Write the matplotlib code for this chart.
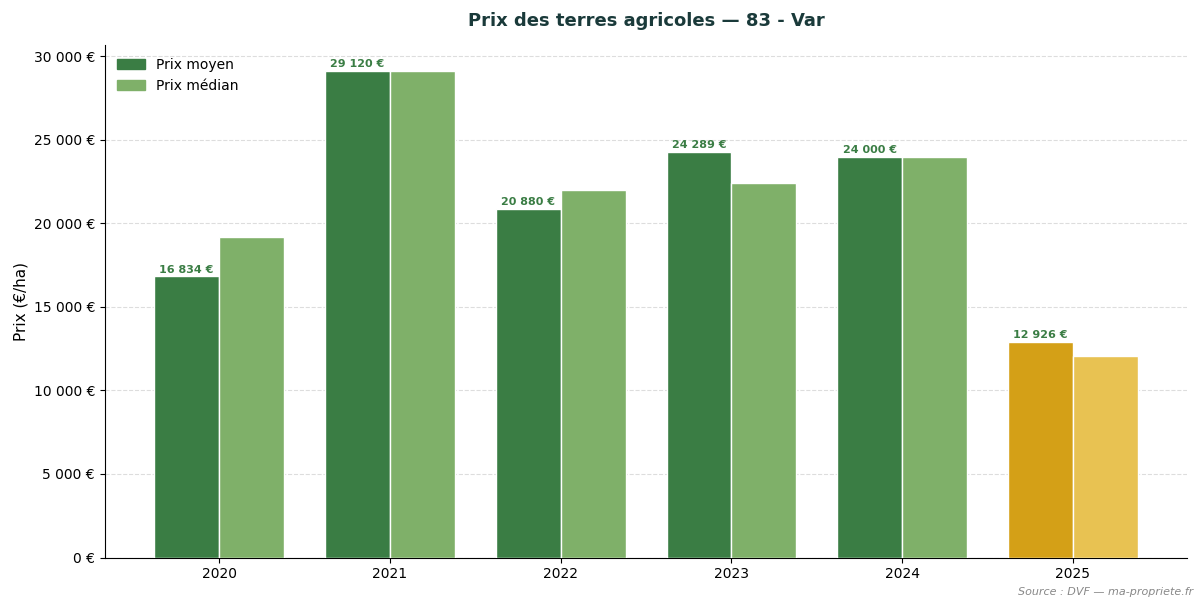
import matplotlib
matplotlib.use("Agg")
import matplotlib.pyplot as plt
import numpy as np
from matplotlib.ticker import FuncFormatter

years = ["2020", "2021", "2022", "2023", "2024", "2025"]
prix_moyen = [16834, 29120, 20880, 24289, 24000, 12926]
prix_median = [19200, 29120, 22000, 22400, 24000, 12050]

fig, ax = plt.subplots(figsize=(12.03, 6.06), dpi=100)
fig.subplots_adjust(left=0.087, right=0.987, top=0.925, bottom=0.08)
x = np.arange(len(years))
w = 0.38
c_moy = ['#3a7d44'] * 5 + ['#d4a017']
c_med = ['#7fb069'] * 5 + ['#e8c252']
b1 = ax.bar(x - w/2, prix_moyen, w, color=c_moy, edgecolor='white', linewidth=1, label='Prix moyen', zorder=3)
b2 = ax.bar(x + w/2, prix_median, w, color=c_med, edgecolor='white', linewidth=1, label='Prix médian', zorder=3)
fmt = lambda v: f"{v:,.0f}".replace(",", " ") + " €"
for xi, v in zip(x, prix_moyen):
    ax.text(xi - w/2, v + 100, fmt(v), ha='center', va='bottom', fontsize=8, fontweight='bold', color='#3a7d44', zorder=4)
ax.yaxis.set_major_formatter(FuncFormatter(lambda v, p: fmt(v)))
ax.set_ylim(0, 30650)
ax.set_xlim(-0.67, 5.67)
ax.set_xticks(x)
ax.set_xticklabels(years)
ax.set_yticks(np.arange(0, 30001, 5000))
ax.grid(axis='y', linestyle='--', color='#dddddd', zorder=0)
for s in ['top', 'right']:
    ax.spines[s].set_visible(False)
ax.set_ylabel('Prix (€/ha)', fontsize=11)
ax.set_title('Prix des terres agricoles — 83 - Var', fontsize=13, fontweight='bold', color='#1a3a3a', pad=14)
leg = ax.legend(loc='upper left', frameon=False, fontsize=10)
leg.legend_handles[0].set_color('#3a7d44')
leg.legend_handles[1].set_color('#7fb069')
fig.text(0.992, 0.018, 'Source : DVF — ma-propriete.fr', ha='right', fontsize=8, style='italic', color='#888888')
fig.savefig('out.png', dpi=100)
